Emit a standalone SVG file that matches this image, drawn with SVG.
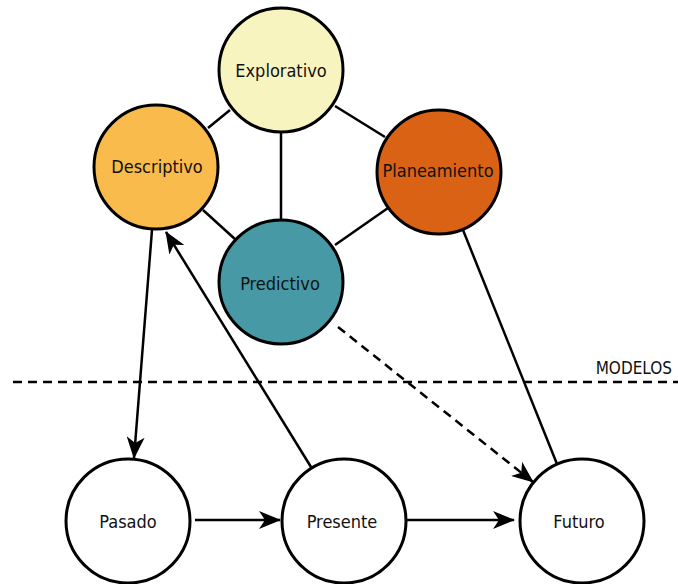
<svg xmlns="http://www.w3.org/2000/svg" width="678" height="584" viewBox="0 0 678 584">
  <style>
    .node circle { stroke: #000; stroke-width: 3; }
    .node text { font-family: "DejaVu Sans Condensed", "DejaVu Sans", sans-serif; font-size: 18px; fill: #111; text-anchor: middle; dominant-baseline: central; }
    .edge { stroke: #000; stroke-width: 2.5; fill: none; }
    .dash { stroke-dasharray: 9 6; }
    .label { font-family: "DejaVu Sans Condensed", "DejaVu Sans", sans-serif; font-size: 17px; fill: #111; }
  </style>
  <defs>
    <marker id="arrow" viewBox="0 0 22 18" refX="21" refY="9" markerWidth="22" markerHeight="18" markerUnits="userSpaceOnUse" orient="auto">
      <path d="M0,0 L22,9 L0,18 L6,9 Z" fill="#000"/>
    </marker>
  </defs>

  <rect width="678" height="584" fill="#fff"/>

  <!-- separator between models and time line -->
  <g id="separator">
    <line x1="13" y1="382" x2="678" y2="382" class="edge dash" stroke-width="3"/>
    <text x="672" y="374" class="label" text-anchor="end">MODELOS</text>
  </g>

  <g id="connectors">
    <line class="edge" x1="230" y1="110" x2="208" y2="128"/>
    <line class="edge" x1="335" y1="106" x2="385" y2="137"/>
    <line class="edge" x1="281" y1="133" x2="281" y2="220"/>
    <line class="edge" x1="203" y1="210" x2="236" y2="240"/>
    <line class="edge" x1="388" y1="208" x2="335" y2="245"/>
    <line class="edge" x1="152" y1="230" x2="134" y2="458" marker-end="url(#arrow)"/>
    <line class="edge" x1="311" y1="467" x2="166" y2="232" marker-end="url(#arrow)"/>
    <line class="edge" x1="463" y1="230" x2="557" y2="464"/>
    <line class="edge dash" x1="338" y1="327" x2="533" y2="482" marker-end="url(#arrow)"/>
    <line class="edge" x1="195" y1="520" x2="280" y2="520" marker-end="url(#arrow)"/>
    <line class="edge" x1="407" y1="520" x2="514" y2="520" marker-end="url(#arrow)"/>
  </g>

  <g id="explorativo" class="node">
    <circle cx="281" cy="70" r="62" fill="#F8F4C0"/>
    <text x="281" y="70">Explorativo</text>
  </g>
  <g id="descriptivo" class="node">
    <circle cx="156" cy="167" r="62" fill="#F9BC4C"/>
    <text x="157" y="166">Descriptivo</text>
  </g>
  <g id="planeamiento" class="node">
    <circle cx="439" cy="172" r="62" fill="#DA6215"/>
    <text x="438" y="170">Planeamiento</text>
  </g>
  <g id="predictivo" class="node">
    <circle cx="281" cy="282" r="62" fill="#479AA5"/>
    <text x="280" y="283">Predictivo</text>
  </g>
  <g id="pasado" class="node">
    <circle cx="128" cy="521" r="62" fill="#fff"/>
    <text x="128" y="521">Pasado</text>
  </g>
  <g id="presente" class="node">
    <circle cx="344" cy="521" r="62" fill="#fff"/>
    <text x="342" y="521">Presente</text>
  </g>
  <g id="futuro" class="node">
    <circle cx="582" cy="521" r="62" fill="#fff"/>
    <text x="579" y="521">Futuro</text>
  </g>
</svg>
